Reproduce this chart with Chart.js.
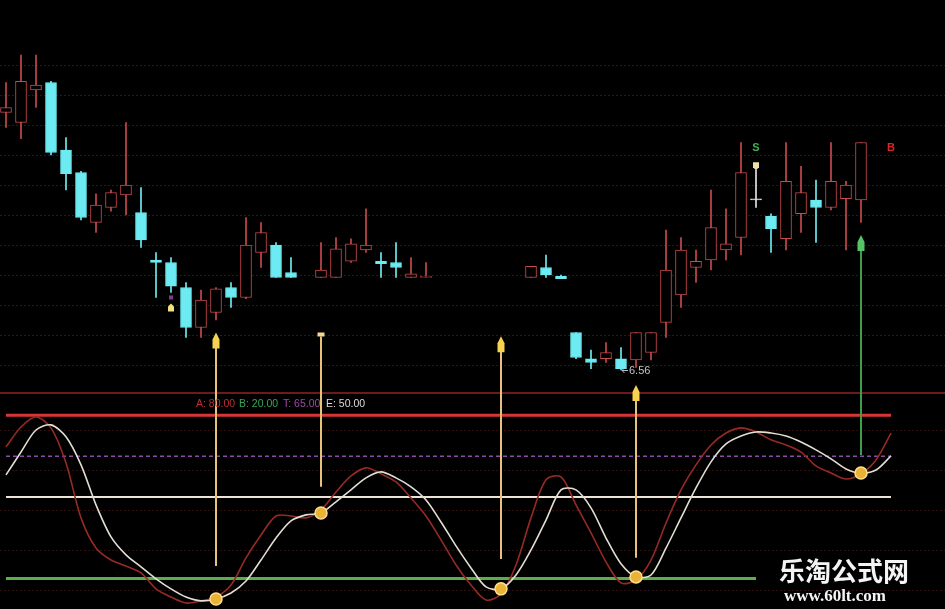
<!DOCTYPE html>
<html><head><meta charset="utf-8">
<script src="https://cdn.jsdelivr.net/npm/chart.js@4.4.1/dist/chart.umd.min.js"></script>
<style>html,body{margin:0;padding:0;background:#000;overflow:hidden}canvas{display:block}</style>
</head><body><canvas id="c" width="945" height="609"></canvas>
<script>
// ---- data ----
const days = [0,1,2,3,4,5,6,7,8,9,10,11,12,13,14,15,16,17,18,19,20,21,22,23,24,25,26,27,28,29,
  30,31,32,33,34,35,36,37,38,39,40,41,42,43,44,45,46,47,48,49,50,51,52,53,54,55,56,57,58,59];
const openP  = [8.62,8.54,8.80,8.86,8.32,8.14,7.74,7.86,7.96,7.82, 7.44,7.42,7.22,6.90,7.02,7.22,7.14,7.50,7.56,7.34,
  null,7.30,7.30,7.43,7.52,7.43,7.42,7.30,7.30,null, null,null,null,null,null,7.30,7.38,7.31,6.86,6.65,
  6.65,6.65,6.64,6.70,6.94,7.16,7.38,7.44,7.52,7.62, 7.93,7.79,7.61,7.81,7.92,7.86,7.93,7.92];
const closeP = [8.66,8.87,8.84,8.30,8.13,7.78,7.88,7.98,8.04,7.60, 7.42,7.23,6.90,7.12,7.21,7.14,7.56,7.66,7.30,7.30,
  null,7.36,7.53,7.57,7.56,7.41,7.38,7.33,7.31,null, null,null,null,null,null,7.39,7.32,7.29,6.66,6.62,
  6.70,6.57,6.86,6.86,7.36,7.52,7.43,7.70,7.57,8.14, 7.92,7.69,8.07,7.98,7.86,8.07,8.04,8.38];
const highP  = [8.86,9.08,9.08,8.87,8.42,8.15,7.97,8.00,8.54,8.02, 7.50,7.46,7.26,7.20,7.22,7.26,7.78,7.74,7.58,7.46,
  null,7.58,7.62,7.61,7.85,7.50,7.58,7.46,7.42,null, null,null,null,null,null,7.39,7.48,7.32,6.86,6.72,
  6.78,6.74,6.86,6.86,7.68,7.62,7.52,8.00,7.85,8.38, 8.16,7.81,8.38,8.19,8.08,8.38,8.07,8.38];
const lowP   = [8.50,8.41,8.66,8.28,8.00,7.76,7.66,7.83,7.80,7.54, 7.14,7.18,6.82,6.82,6.96,7.06,7.13,7.38,7.30,7.30,
  null,7.30,7.30,7.42,7.50,7.30,7.30,7.30,7.30,null, null,null,null,null,null,7.30,7.30,7.29,6.65,6.57,
  6.62,6.56,6.58,6.64,6.82,7.06,7.26,7.36,7.44,7.48, 7.86,7.50,7.52,7.66,7.58,7.84,7.52,7.74];
const oscWhite = [58.1,66.5,74.6,76.5,72.1,61.8,47.1,35.3,28.7,24.3, 19.9,16.2,13.2,11.8,12.5,14.7,19.1,26.8,34.9,41.2,
  43.4,44.1,48.2,52.6,57.0,59.2,57.0,53.7,48.9,40.8, 32.0,23.9,16.9,16.2,21.3,30.5,41.5,52.6,52.6,46.0,
  34.9,25.4,20.6,21.3,31.2,42.3,53.3,62.9,69.5,72.4, 73.9,73.5,72.4,70.2,67.3,64.0,60.3,58.8,59.9,65.1];
const oscRed = [68.4,75.7,79.4,75.4,62.5,42.3,31.2,26.8,24.6,22.1, 16.2,13.2,11.0,11.8,13.2,17.6,27.6,36.0,43.0,43.0,
  42.3,45.2,51.8,57.7,60.7,58.5,55.5,49.6,43.0,34.2, 25.0,17.6,12.1,14.3,25.0,42.3,56.3,57.4,47.1,36.8,
  26.1,18.4,19.5,26.8,40.4,52.6,61.8,69.1,73.5,75.4, 73.9,71.0,69.1,66.5,61.4,58.8,56.6,58.5,63.6,73.5];
const levelA = 80, levelB = 20, levelT = 65, levelE = 50;
const levelLabels = ['A: 80.00','B: 20.00','T: 65.00','E: 50.00'];
const signalIdx = [14, 21, 33, 42, 57];
const arrowTopPrice = [6.86, 6.86, 6.83, 6.44, 7.64];
const arrowBaseOsc = [24.6, 53.7, 27.2, 27.6, 65.4];
const arrowKind = ['tip','cap','tip','tip','tip'];
const gridPrice = [9.00,8.76,8.52,8.28,8.04,7.80,7.56,7.32,7.08,6.84,6.60];
const gridOsc = [74.6,59.9,45.2,30.5,15.8];
const lowLabel = '6.56';
const lowIdx = 41;

// ---- styles ----
const RED = '#c84a4c', CYAN = '#6cecf2', WHITE = '#e4e4e4';
function candleColor(i){
  const d = closeP[i]-openP[i];
  if (d < 0 && d > -0.015) return WHITE;
  return d >= 0 ? RED : CYAN;
}
const bodies = [], wicks = [], bodyFill = [], bodyBorder = [], wickColor = [];
days.forEach(i => {
  if (openP[i] == null || openP[i] === undefined) return;
  const c = candleColor(i);
  bodies.push({x: days[i], y: [openP[i], closeP[i]]});
  wicks.push({x: days[i], y: [lowP[i], highP[i]]});
  bodyFill.push(c === RED ? '#000' : c);
  bodyBorder.push(c);
  wickColor.push(c);
});
const first = days[0], last = days[days.length-1];
const levelLine = (v, end) => [{x: first, y: v}, {x: end, y: v}];

const deco = {
  id: 'deco',
  beforeDraw(chart){
    const c = chart.ctx; c.save(); c.fillStyle = '#000'; c.fillRect(0,0,chart.width,chart.height); c.restore();
  },
  beforeDatasetsDraw(chart){
    const c = chart.ctx, yP = chart.scales.yP, yO = chart.scales.yO, W = chart.width;
    c.save();
    c.strokeStyle = '#3c1212'; c.lineWidth = 1; c.setLineDash([2,2]);
    gridPrice.forEach(v => { const y = Math.round(yP.getPixelForValue(v))+0.5; c.beginPath(); c.moveTo(0,y); c.lineTo(W,y); c.stroke(); });
    c.strokeStyle = '#2e0e0e';
    gridOsc.forEach(v => { const y = Math.round(yO.getPixelForValue(v))+0.5; c.beginPath(); c.moveTo(0,y); c.lineTo(W,y); c.stroke(); });
    c.setLineDash([]);
    // panel separator
    c.strokeStyle = '#6e1a1a'; c.lineWidth = 2;
    c.beginPath(); c.moveTo(0,393); c.lineTo(W,393); c.stroke();
    c.restore();
  },
  afterDatasetsDraw(chart){
    const c = chart.ctx, xs = chart.scales.x, yP = chart.scales.yP, yO = chart.scales.yO;
    c.save();
    // arrows
    signalIdx.forEach((idx, k) => {
      const x = Math.round(xs.getPixelForValue(days[idx]));
      const yt = yP.getPixelForValue(arrowTopPrice[k]);
      const yb = yO.getPixelForValue(arrowBaseOsc[k]);
      const green = k === signalIdx.length-1;
      c.strokeStyle = green ? '#3f9d4c' : '#e9c27a';
      c.lineWidth = 2;
      c.beginPath(); c.moveTo(x, yb); c.lineTo(x, yt + 4); c.stroke();
      c.fillStyle = green ? '#55c466' : '#f6d24e';
      if (arrowKind[k] === 'tip') {
        c.beginPath();
        c.moveTo(x, yt); c.lineTo(x+3.5, yt+7); c.lineTo(x+3.5, yt+16); c.lineTo(x-3.5, yt+16); c.lineTo(x-3.5, yt+7);
        c.closePath(); c.fill();
      } else {
        c.fillStyle = '#f2d890';
        c.fillRect(x-3.5, yt, 7, 4);
      }
    });
    // small markers
    const house = (x, y, col, down) => {
      c.fillStyle = col; c.beginPath();
      if (!down) { c.moveTo(x, y-4); c.lineTo(x+3, y-1); c.lineTo(x+3, y+4); c.lineTo(x-3, y+4); c.lineTo(x-3, y-1); }
      else { c.moveTo(x, y+4); c.lineTo(x+3, y+1); c.lineTo(x+3, y-4); c.lineTo(x-3, y-4); c.lineTo(x-3, y+1); }
      c.closePath(); c.fill();
    };
    let mx = xs.getPixelForValue(days[11]);
    c.fillStyle = '#7a3a9a'; c.fillRect(mx-2, yP.getPixelForValue(7.14)-2, 4, 4);
    house(mx, yP.getPixelForValue(7.06), '#f2e27a', false);
    const sx = xs.getPixelForValue(days[50]);
    house(sx, yP.getPixelForValue(8.19), '#f3dcae', true);
    c.font = 'bold 11px "Liberation Sans", Arial, sans-serif';
    c.textAlign = 'center'; c.textBaseline = 'middle';
    c.fillStyle = '#3fae52'; c.fillText('S', sx, yP.getPixelForValue(8.34));
    c.fillStyle = '#d62828'; c.fillText('B', xs.getPixelForValue(days[59]), yP.getPixelForValue(8.34));
    // low label
    const lx = xs.getPixelForValue(days[lowIdx]), ly = yP.getPixelForValue(lowP[lowIdx]);
    c.strokeStyle = '#bdbdbd'; c.lineWidth = 1;
    c.beginPath(); c.moveTo(lx+1, ly+0.5); c.lineTo(lx+7, ly+0.5); c.stroke();
    c.beginPath(); c.moveTo(lx+1, ly+0.5); c.lineTo(lx+3.5, ly-2); c.moveTo(lx+1, ly+0.5); c.lineTo(lx+3.5, ly+3); c.stroke();
    c.font = '11px "Liberation Sans", Arial, sans-serif'; c.textAlign = 'left';
    c.fillStyle = '#c4c4c4'; c.fillText(lowLabel, lx+8, ly+1);
    // level header
    c.font = '10.5px "Liberation Sans", Arial, sans-serif';
    const hx = [196, 239, 283, 326], hc = ['#b83232','#3aa452','#a246a6','#dadada'];
    levelLabels.forEach((t,k) => { c.fillStyle = hc[k]; c.fillText(t, hx[k], 404); });
    // watermark
    c.fillStyle = '#f4f4f4';
    c.font = 'bold 26px "Noto Sans CJK SC", sans-serif';
    c.fillText('乐淘公式网', 779, 571);
    c.font = 'bold 17px "Liberation Serif", "DejaVu Serif", serif';
    c.fillText('www.60lt.com', 784, 597);
    c.restore();
  }
};

new Chart(document.getElementById('c'), {
  type: 'bar',
  data: {
    datasets: [
      { type:'line', yAxisID:'yO', data: levelLine(levelA, last), borderColor:'#d83636', borderWidth:3, pointRadius:0, order:20 },
      { type:'line', yAxisID:'yO', data: levelLine(levelT, last), borderColor:'#8c4aa6', borderWidth:1.5, borderDash:[4,3], pointRadius:0, order:20 },
      { type:'line', yAxisID:'yO', data: levelLine(levelE, last), borderColor:'#ece5d6', borderWidth:2, pointRadius:0, order:20 },
      { type:'line', yAxisID:'yO', data: levelLine(levelB, days[50]), borderColor:'#5cae4c', borderWidth:3, pointRadius:0, order:20 },
      { type:'line', yAxisID:'yO', data: days.map(i => ({x:i, y:oscRed[i]})), borderColor:'#962a24', borderWidth:1.6, pointRadius:0, tension:0.3, order:12 },
      { type:'line', yAxisID:'yO', data: days.map(i => ({x:i, y:oscWhite[i]})), borderColor:'#e2ded2', borderWidth:1.6, pointRadius:0, tension:0.3, order:11 },
      { type:'line', yAxisID:'yO', showLine:false, data: signalIdx.map(i => ({x:days[i], y:oscWhite[i]})),
        pointRadius:6, pointBackgroundColor:'#eab236', pointBorderColor:'#ffe08a', pointBorderWidth:1.5, order:1 },
      { yAxisID:'yP', data: wicks, backgroundColor: wickColor, borderWidth:0, barThickness:1, grouped:false, order:6 },
      { yAxisID:'yP', data: bodies, backgroundColor: bodyFill, borderColor: bodyBorder, borderWidth:1, borderSkipped:false, barThickness:11, grouped:false, order:5 }
    ]
  },
  options: {
    responsive:false, animation:false, devicePixelRatio:1,
    layout:{padding:0, autoPadding:false},
    plugins:{legend:{display:false}, tooltip:{enabled:false}},
    scales:{
      x:{type:'linear', min:-0.4, max:62.6, offset:false, display:false},
      yP:{type:'linear', position:'left', min:4.648, max:9.52, display:false},
      yO:{type:'linear', position:'right', min:8.8, max:232.7, display:false}
    }
  },
  plugins:[deco]
});
</script>
</body></html>
